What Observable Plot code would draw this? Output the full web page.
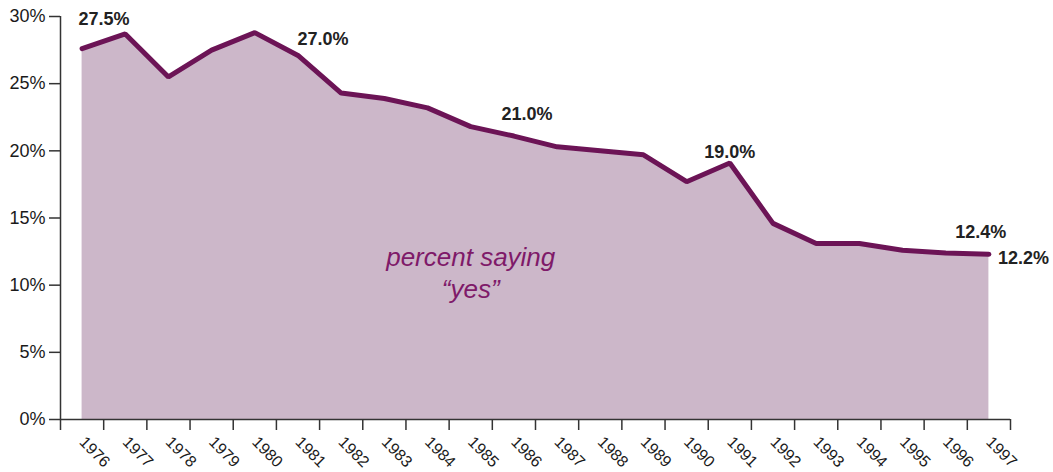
<!DOCTYPE html>
<html>
<head>
<meta charset="utf-8">
<script src="https://cdn.jsdelivr.net/npm/d3@7"></script>
<script src="https://cdn.jsdelivr.net/npm/@observablehq/plot@0.6"></script>
<style>
  html, body { margin: 0; padding: 0; background: #fff; }
  #chart { width: 1053px; height: 472px; }
</style>
</head>
<body>
<div id="chart"></div>
<script>
const years = [1976,1977,1978,1979,1980,1981,1982,1983,1984,1985,1986,1987,1988,1989,1990,1991,1992,1993,1994,1995,1996,1997];
const percentYes = [27.6,28.7,25.5,27.5,28.8,27.1,24.3,23.9,23.2,21.8,21.1,20.3,20.0,19.7,17.7,19.1,14.6,13.1,13.1,12.6,12.4,12.3];
const yTicks = [0,5,10,15,20,25,30];
const yTickLabels = ["0%","5%","10%","15%","20%","25%","30%"];
const annoYears = [1976,1981,1986,1991,1996,1997];
const annoValues = [27.6,27.1,21.1,19.1,12.4,12.3];
const annoLabels = ["27.5%","27.0%","21.0%","19.0%","12.4%","12.2%"];
const noteYear = [1985];
const noteValue = [11];
const noteText = ["percent saying\n\u201Cyes\u201D"];

const data = years.map((y, i) => ({year: y, value: percentYes[i]}));
const tickBounds = d3.range(years.length + 1).map(i => years[0] - 0.5 + i);
const annos = annoYears.map((y, i) => ({year: y, value: annoValues[i], label: annoLabels[i]}));
const annoDx = [22, 25, 13, 0, 35, 9];
const annoDy = [-30, -16, -22, -11, -21, 4];
const annoAnchor = ["middle","middle","middle","middle","middle","start"];
const notes = noteYear.map((y, i) => ({year: y, value: noteValue[i], text: noteText[i]}));

const font = "'Liberation Sans', Arial, Helvetica, sans-serif";

const chart = Plot.plot({
  width: 1053,
  height: 472,
  marginLeft: 60,
  marginRight: 43,
  marginTop: 16,
  marginBottom: 53,
  style: {fontFamily: font, color: "#1a1a1a", background: "#fff"},
  x: {domain: [years[0] - 0.5, years[years.length - 1] + 0.5]},
  y: {domain: [0, 30]},
  marks: [
    Plot.areaY(data, {x: "year", y: "value", fill: "#ccb7c9"}),
    Plot.lineY(data, {x: "year", y: "value", stroke: "#6c1456", strokeWidth: 5, strokeLinejoin: "miter"}),
    Plot.ruleY([0], {stroke: "#333", strokeWidth: 1.5}),
    Plot.ruleX([years[0] - 0.5], {y1: 0, y2: 30, stroke: "#333", strokeWidth: 1.5}),
    Plot.axisY({ticks: yTicks, tickFormat: (d) => yTickLabels[yTicks.indexOf(d)], tickSize: 11, tickPadding: 4, fontSize: 18, stroke: "#333", strokeWidth: 1.5, label: null}),
    Plot.axisX({ticks: tickBounds, tickFormat: () => "", tickSize: 11, stroke: "#333", strokeWidth: 1.5, label: null}),
    Plot.axisX({ticks: years, tickFormat: (d) => String(d), tickSize: 0, tickPadding: 20, tickRotate: 45, fontSize: 16, label: null}),
    ...annos.map((a, i) => Plot.text([a], {x: "year", y: "value", text: "label", dx: annoDx[i], dy: annoDy[i], textAnchor: annoAnchor[i], fontSize: 18, fill: "#222", fontWeight: "bold"})),
    Plot.text(notes, {x: "year", y: "value", text: "text", fontSize: 26, fontStyle: "italic", fill: "#7f1a69", lineHeight: 1.23})
  ]
});
document.getElementById("chart").appendChild(chart);
</script>
</body>
</html>
